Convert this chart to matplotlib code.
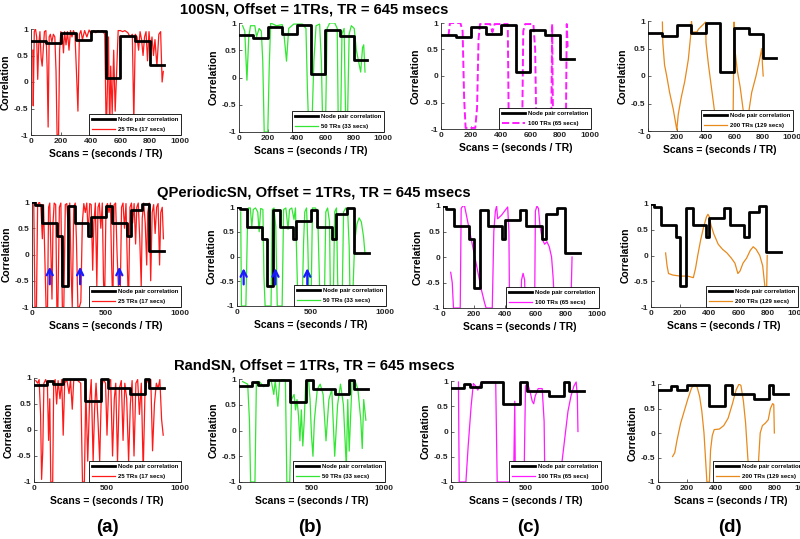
import matplotlib
matplotlib.use('Agg')
import matplotlib.pyplot as plt

plt.rcParams['font.family'] = ['Liberation Sans', 'DejaVu Sans']
plt.rcParams['font.weight'] = 'bold'

W, H = 800, 539

# node pair correlation (step) per row: edges and levels
STEP_X_100SN = [0, 100, 200, 300, 400, 500, 600, 700, 800, 890]
STEP_Y_100SN = [0.78, 0.73, 0.92, 0.79, 0.96, 0.07, 0.87, 0.77, 0.32]
STEP_X_QPER = [0, 20, 70, 170, 200, 240, 290, 380, 400, 500, 540, 640, 670, 740, 790, 890]
STEP_Y_QPER = [1.0, 0.95, 0.6, 0.35, -0.6, 0.93, 0.6, 0.35, 0.72, 0.93, 0.6, 0.35, 0.85, 0.97, 0.07]
STEP_X_RAND = [0, 90, 130, 200, 350, 460, 510, 660, 760, 790, 890]
STEP_Y_RAND = [0.87, 0.95, 0.88, 0.98, 0.55, 0.98, 0.8, 0.7, 0.98, 0.8]

# sliding window correlation curves (scan, correlation)
R1A = [(12, 0.6), (15, -0.45), (22, 0.95), (30, 1.0), (38, 0.85), (45, 0.05), (52, 0.7), (60, 0.95),
       (68, 0.45), (75, 0.3), (82, 0.6), (90, 0.95), (100, 0.97), (108, 0.3), (115, -0.85), (122, 0.85),
       (130, 0.9), (140, 0.75), (150, 0.9), (160, 0.85), (168, 0.2), (175, -1), (185, -1), (192, 0.6),
       (200, 0.95), (210, 0.9), (218, 0.55), (225, 0.95), (235, 0.7), (245, 0.95), (255, 0.6), (265, 0.97),
       (275, 0.85), (285, 0.97), (295, 0.9), (305, 0.2), (315, -0.55), (325, 0.9), (335, 0.97), (345, 0.8),
       (360, 0.97), (375, 0.85), (390, 0.98), (405, 0.9), (420, 0.97), (435, 0.93), (450, 0.97), (465, 0.95),
       (480, 0.97), (495, 0.9), (505, -1), (512, -0.2), (520, 0.85), (528, -1), (535, 0.3), (545, -0.6),
       (555, 0.6), (565, -0.55), (575, 0.2), (585, 0.97), (600, 0.97), (615, 0.95), (630, 0.97), (650, 0.93),
       (665, 0.85), (680, 0.9), (690, -0.75), (700, 0.9), (712, 0.85), (722, 0.6), (732, 0.95), (742, 0.8),
       (752, 0.5), (762, 0.85), (772, 0.95), (782, 0.4), (792, 0.95), (802, 0.6), (812, 0.85), (822, 0.5),
       (832, 0.8), (845, 0.3), (858, 0.9), (870, 0.95), (880, 0.0), (888, 0.2)]
R1B = [(25, 0.95), (40, 0.85), (55, -0.05), (68, 0.75), (80, 0.95), (110, 0.95), (122, 0.75), (140, 0.9),
       (155, 0.85), (165, 0.3), (175, -1), (200, -1), (210, 0.2), (220, 1.0), (260, 0.95), (300, 0.97),
       (312, 0.8), (330, 0.3), (345, 0.9), (380, 0.98), (440, 0.98), (465, 0.9), (475, -0.2), (485, -1),
       (505, -1), (520, 0.3), (535, 0.95), (560, 0.98), (572, 0.3), (582, -1), (600, -1), (612, 0.9),
       (630, 1.0), (665, 1.0), (682, 0.9), (690, -1), (705, -1), (715, 0.8), (730, 0.9), (742, -1),
       (752, -1), (765, 0.8), (780, 0.95), (800, 0.9), (815, 0.5), (830, 0.3), (845, 0.1), (858, 0.55),
       (866, 0.6), (875, 0.1)]
R1C = [(50, 0.75), (60, 1.0), (130, 1.0), (145, 0.85), (155, -0.4), (165, -0.98), (230, -0.98), (242, -0.6),
       (252, 0.7), (262, 0.98), (330, 0.98), (345, 0.83), (360, 0.98), (448, 0.98), (455, -1), (545, -1),
       (552, 0.85), (565, 0.98), (620, 0.98), (632, 0.5), (640, -1), (740, -1), (746, 0.98), (752, -1),
       (838, -1), (844, 0.98), (850, 0.55)]
R1D = [(100, 0.98), (103, 0.6), (115, 0.2), (130, 0.0), (150, -0.3), (175, -0.6), (195, -0.9), (200, -0.98),
       (210, -0.7), (230, -0.4), (255, -0.1), (280, 0.3), (295, 0.7), (302, 1.0), (308, 0.8), (340, 0.8),
       (350, 0.85), (400, 0.98), (403, 0.6), (420, 0.2), (440, -0.2), (460, -0.6), (475, -1.0), (590, -1.0),
       (598, 0.98), (603, 0.5), (620, 0.1), (640, -0.2), (660, -0.6), (680, -1.0), (700, -0.65), (720, -0.3),
       (750, 0.0), (775, 0.3), (790, 0.5), (795, 0.2), (800, 0.0)]

R2A = [(12, 0.95), (20, -1), (30, -1), (38, 0.95), (50, 1), (60, 0.9), (70, 0.3), (78, 0.95), (88, -0.2),
       (95, -1), (105, -1), (112, 0.9), (120, 0.98), (128, 0.0), (135, -0.85), (142, 0.6), (150, 0.98),
       (160, 0.95), (168, -1), (175, -1), (185, 0.9), (195, 0.98), (205, -1), (215, -1), (225, 0.95),
       (235, 0.97), (245, 0.5), (255, 0.98), (265, -0.4), (272, -1), (282, 0.9), (292, 0.98), (300, 0.3),
       (310, -1), (320, -1), (330, -0.9), (340, 0.6), (350, 0.97), (360, 0.8), (370, 0.98), (380, 0.4),
       (390, 0.97), (400, 0.95), (410, -0.3), (418, 0.6), (428, 0.98), (438, -0.6), (446, 0.9), (455, 0.98),
       (465, 0.5), (475, 0.98), (483, -0.5), (490, -1), (500, 0.9), (510, 0.97), (520, 0.8), (530, 0.98),
       (538, -0.2), (546, -1), (555, 0.95), (565, 0.98), (575, 0.0), (585, -0.7), (595, -1), (605, 0.9),
       (615, 0.98), (625, 0.5), (635, 0.97), (645, -0.3), (652, -1), (662, 0.9), (672, 0.98), (680, 0.6),
       (690, 0.97), (700, 0.2), (708, 0.9), (718, 0.98), (728, 0.3), (738, -0.6), (745, 0.7), (755, 0.98),
       (765, 0.6), (775, -0.2), (782, 0.8), (792, 0.98), (802, -0.5), (812, 0.8), (822, 0.95), (832, 0.4),
       (842, 0.9), (852, 0.97), (862, -0.2), (870, 0.8), (880, 0.9), (888, 0.3)]
R2B = [(25, 0.9), (30, -1), (60, -1), (70, 0.5), (78, 0.98), (90, 0.98), (100, 0.6), (110, 0.95), (125, 0.98),
       (140, 0.9), (150, 0.5), (160, 0.97), (175, 0.95), (182, -0.4), (190, -1), (230, -1), (238, 0.95),
       (250, 0.98), (262, 0.6), (272, -1), (305, -1), (315, 0.95), (330, 0.98), (345, 0.55), (355, 0.95),
       (370, 0.98), (385, 0.75), (395, 0.98), (405, -0.2), (412, -1), (440, -1), (450, 0.3), (458, 0.9),
       (470, 0.98), (478, 0.3), (488, -1), (500, -1), (510, 0.98), (530, 0.98), (545, 0.9), (558, -0.6),
       (565, -1), (590, -1), (600, 0.9), (612, 0.98), (625, 0.7), (632, -1), (650, -1), (660, 0.9),
       (672, 0.98), (680, -0.5), (690, -1), (710, -1), (720, 0.9), (735, 0.98), (748, 0.9), (758, 0.2),
       (765, -1), (780, -1), (795, 0.3), (810, 0.65), (825, 0.78), (840, 0.7), (855, 0.4), (865, 0.05)]
R2C = [(50, -0.3), (60, -0.5), (68, -1), (112, -1), (118, 0.95), (128, 1.0), (140, 1.0), (150, 0.85),
       (170, 0.55), (190, 0.25), (210, -0.05), (230, -0.35), (250, -0.65), (270, -0.9), (280, -1), (320, -1),
       (330, 0.5), (340, 0.9), (348, 1.0), (355, 0.75), (380, 0.82), (400, 0.9), (420, 0.98), (428, 0.5),
       (432, -1), (505, -1), (510, -0.45), (520, -0.32), (530, -0.45), (535, -1), (595, -1), (600, 0.9),
       (610, 1.0), (620, 0.95), (630, 0.6), (645, 0.35), (660, 0.25), (675, 0.3), (690, 0.2), (705, 0.0),
       (715, -0.4), (725, -1), (830, -1), (838, 0.0)]
R2D = [(100, 0.05), (110, -0.2), (120, -0.35), (150, -0.38), (200, -0.4), (250, -0.4), (290, -0.43),
       (305, -0.25), (320, 0.0), (340, 0.3), (360, 0.55), (380, 0.75), (390, 0.8), (400, 0.75), (410, 0.6),
       (430, 0.42), (460, 0.22), (490, 0.12), (520, 0.05), (550, -0.05), (575, -0.15), (595, -0.35),
       (610, -0.3), (630, -0.15), (655, -0.05), (680, 0.1), (700, 0.17), (720, 0.12), (745, 0.0),
       (765, -0.2), (780, -0.6), (790, -1.0), (796, 0.0)]

R3A = [(12, 0.95), (25, 0.9), (35, 0.97), (45, 0.3), (52, -0.95), (60, -0.4), (68, 0.9), (80, 0.97),
       (92, 0.85), (100, -0.2), (108, 0.6), (115, -1), (128, -1), (135, 0.9), (145, 0.97), (155, 0.5),
       (165, 0.95), (178, 0.6), (190, 0.97), (200, -0.1), (210, 0.9), (225, 0.97), (240, 0.7), (250, 0.97),
       (262, 0.4), (272, 0.95), (285, 0.97), (300, 0.95), (320, 0.9), (332, -1), (345, -1), (355, 0.8),
       (368, -0.6), (380, 0.5), (392, 0.97), (405, -0.6), (415, 0.4), (425, 0.9), (438, 0.2), (450, -0.6),
       (462, 0.8), (475, 0.97), (490, 0.9), (500, -0.1), (512, 0.9), (525, 0.97), (538, -0.5), (550, 0.6),
       (560, 0.9), (572, -0.6), (585, 0.8), (598, 0.95), (610, -0.2), (622, 0.9), (635, 0.6), (648, -0.6),
       (660, 0.5), (672, 0.95), (685, -0.5), (698, 0.9), (710, 0.97), (722, 0.3), (735, 0.9), (748, -0.8),
       (760, 0.7), (772, 0.97), (785, 0.9), (800, 0.97), (812, -0.4), (825, 0.5), (838, 0.9), (850, 0.8),
       (862, 0.97), (874, 0.2), (885, -0.1)]
R3B = [(25, 0.95), (60, 0.9), (72, 0.2), (80, -1), (110, -1), (120, 0.95), (140, 0.95), (170, 0.85),
       (200, 0.9), (220, 1.0), (240, 0.7), (250, 0.97), (268, 0.47), (280, 0.95), (300, 1.0), (320, 0.97),
       (330, -1), (350, -1), (362, 0.6), (380, 0.7), (390, 0.4), (400, 0.6), (410, 0.3), (420, -0.2),
       (430, 0.4), (440, -0.3), (450, 0.2), (460, 0.95), (480, 0.97), (490, 0.6), (500, -0.1), (510, -0.5),
       (520, 0.2), (540, 0.8), (560, 0.9), (580, 0.7), (600, -0.2), (620, 0.6), (640, 0.8), (660, -0.5),
       (680, 0.5), (700, 0.9), (720, 0.5), (740, -0.7), (750, 0.6), (760, -0.4), (780, 0.97), (800, 0.97),
       (820, 0.8), (840, 0.2), (850, -0.35), (860, 0.6), (875, 0.2)]
R3C = [(50, 0.98), (55, -1), (100, -1), (115, -0.3), (135, 0.5), (150, 0.95), (165, 0.9), (180, 0.82),
       (195, 0.92), (210, 0.98), (300, 0.98), (310, -1), (420, -1), (428, 0.6), (432, -1), (490, -1),
       (500, 0.9), (512, 0.97), (530, 0.8), (545, 0.6), (555, 0.55), (565, 0.7), (585, 0.85), (612, 0.85),
       (625, 0.2), (630, -1), (730, -1), (745, -0.6), (765, -0.1), (785, 0.4), (805, 0.7), (825, 0.9),
       (840, 0.98), (848, 0.7), (852, 0.0)]
R3D = [(100, -0.48), (115, -0.4), (130, -0.15), (155, 0.2), (180, 0.45), (205, 0.7), (230, 0.92), (250, 1.0),
       (265, 0.97), (285, 0.75), (300, 0.45), (315, 0.0), (325, -0.5), (335, -1.0), (352, -1.0), (360, -0.35),
       (372, -0.05), (385, 0.07), (420, 0.08), (450, 0.15), (480, 0.3), (510, 0.6), (535, 0.88), (555, 1.0),
       (568, 0.97), (585, 0.65), (600, 0.2), (615, -0.5), (628, -1.0), (680, -1.0), (690, -0.5), (700, 0.0),
       (715, 0.15), (735, 0.2), (755, 0.27), (770, 0.5), (785, 0.6), (793, 0.58), (797, 0.0)]

# blue arrow positions (scan) in the QPeriodic row
ARROWS_A = [120, 325, 590]
ARROWS_B = [45, 260, 475]

WIN_LABELS = ['25 TRs (17 secs)', '50 TRs (33 secs)', '100 TRs (65 secs)', '200 TRs (129 secs)']
COLORS = ['#ff1a1a', '#33e633', '#ff1aff', '#e8891c']
TITLES = ['100SN, Offset = 1TRs, TR = 645 msecs',
          'QPeriodicSN, Offset = 1TRs, TR = 645 msecs',
          'RandSN, Offset = 1TRs, TR = 645 msecs']
PANEL_LABELS = ['(a)', '(b)', '(c)', '(d)']

# axes boxes in pixels: left, right, top, bottom
BOXES = [
    [(31, 180, 29, 135), (239, 383, 23, 132), (441, 590, 23, 129), (648, 792, 21, 131)],
    [(32, 180, 202, 307), (237, 385, 207, 306), (443, 597, 206, 308), (651, 797, 204, 307)],
    [(34, 180, 378, 482), (239, 384, 379, 482), (451, 600, 381, 482), (658, 804, 384, 482)],
]
XTICK_STEP = [[200, 200, 200, 200], [500, 500, 200, 200], [500, 500, 500, 200]]

curves = [[R1A, R1B, R1C, R1D], [R2A, R2B, R2C, R2D], [R3A, R3B, R3C, R3D]]
steps = [(STEP_X_100SN, STEP_Y_100SN), (STEP_X_QPER, STEP_Y_QPER), (STEP_X_RAND, STEP_Y_RAND)]

fig = plt.figure(figsize=(W / 100, H / 100), dpi=100)
fig.patch.set_facecolor('white')

for r in range(3):
    sx, sy = steps[r]
    for c in range(4):
        l, rt, t, b = BOXES[r][c]
        ax = fig.add_axes([l / W, 1 - b / H, (rt - l) / W, (b - t) / H])
        ax.step(sx, sy + [sy[-1]], where='post', color='black', lw=2.0, label='Node pair correlation',
                zorder=3)
        xs = [p[0] for p in curves[r][c]]
        ys = [p[1] for p in curves[r][c]]
        ls = '--' if (r == 0 and c == 2) else '-'
        lw = 1.4 if ls == '--' else 0.9
        ax.plot(xs, ys, color=COLORS[c], lw=lw, ls=ls, label=WIN_LABELS[c], zorder=2)
        ax.set_xlim(0, 1000)
        ax.set_ylim(-1, 1)
        ax.set_yticks([-1, -0.5, 0, 0.5, 1])
        ax.set_yticklabels(['-1', '-0.5', '0', '0.5', '1'])
        step = XTICK_STEP[r][c]
        ax.set_xticks(list(range(0, 1001, step)))
        ax.tick_params(direction='in', length=2, width=0.5, labelsize=6, pad=2, colors='#262626')
        for lab in ax.get_xticklabels() + ax.get_yticklabels():
            lab.set_fontweight('bold')
        for side in ['top', 'right']:
            ax.spines[side].set_visible(False)
        for side in ['left', 'bottom']:
            ax.spines[side].set_linewidth(0.6)
            ax.spines[side].set_color('#262626')
        ax.set_ylabel('Correlation', fontsize=7.5, fontweight='bold', labelpad=2)
        ax.set_xlabel('Scans = (seconds / TR)', fontsize=7.5, fontweight='bold', labelpad=3)
        leg = ax.legend(loc='lower right', fontsize=4.3, frameon=True, fancybox=False,
                        edgecolor='black', framealpha=1, borderaxespad=0.0, handlelength=3.8,
                        handletextpad=0.5, borderpad=0.55, labelspacing=0.75,
                        bbox_to_anchor=(1.01, 0.0))
        leg.get_frame().set_linewidth(0.6)
        leg.set_zorder(5)
        if r == 1 and c in (0, 1):
            for xa in (ARROWS_A if c == 0 else ARROWS_B):
                ax.annotate('', xy=(xa, -0.18), xytext=(xa, -0.62),
                            arrowprops=dict(arrowstyle='->', color='#1a1aff', lw=1.6,
                                            mutation_scale=11), zorder=4)

for r, y in enumerate([10, 193, 366]):
    fig.text(314 / W, 1 - y / H, TITLES[r], ha='center', va='center', fontsize=10.6, fontweight='bold')

for x, lab in zip([107, 310, 528, 730], PANEL_LABELS):
    fig.text(x / W, 1 - 527 / H, lab, ha='center', va='center', fontsize=13.5, fontweight='bold')

fig.savefig('out.png', dpi=100)
